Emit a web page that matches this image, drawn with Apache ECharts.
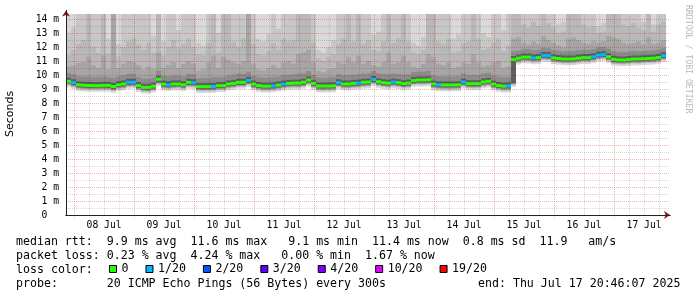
<!DOCTYPE html>
<html><head><meta charset="utf-8">
<script src="https://cdn.jsdelivr.net/npm/echarts@6/dist/echarts.min.js"></script>
<style>html,body{margin:0;padding:0;background:#fff;}#c{width:697px;height:297px;}</style>
</head><body><div id="c"></div>
<script>
// time: hours relative to 08 Jul 00:00; first bucket starts Jul 7 20:46, 2 h per bucket
const startHour = -3.2333;
const stepHours = 2;
const upperLimit = 14.357;

// median rtt (ms) per bucket
const median = [
 9.55, 9.45, 9.30, 9.27, 9.25, 9.24, 9.24, 9.26, 9.26, 9.18,
 9.30, 9.36, 9.48, 9.48, 9.24, 9.12, 9.12, 9.20, 9.70, 9.35,
 9.30, 9.36, 9.36, 9.30, 9.48, 9.45, 9.17, 9.17, 9.17, 9.18,
 9.24, 9.24, 9.36, 9.40, 9.48, 9.48, 9.62, 9.35, 9.25, 9.20,
 9.20, 9.22, 9.28, 9.35, 9.40, 9.42, 9.42, 9.48, 9.64, 9.40,
 9.21, 9.21, 9.21, 9.22, 9.45, 9.36, 9.36, 9.40, 9.42, 9.48,
 9.50, 9.68, 9.52, 9.45, 9.42, 9.50, 9.45, 9.38, 9.42, 9.60,
 9.64, 9.64, 9.66, 9.36, 9.30, 9.29, 9.29, 9.29, 9.30, 9.50,
 9.38, 9.38, 9.38, 9.50, 9.55, 9.35, 9.25, 9.20, 9.22, 11.10,
 11.20, 11.28, 11.28, 11.22, 11.24, 11.40, 11.38, 11.22, 11.18, 11.14,
 11.14, 11.15, 11.20, 11.24, 11.24, 11.30, 11.42, 11.45, 11.30, 11.12,
 11.08, 11.07, 11.10, 11.14, 11.14, 11.16, 11.18, 11.20, 11.25, 11.38
];
// lost pings out of 20 per bucket
const loss = [
 0,1,0,0,0,0,0,0,0,0,
 0,0,1,1,0,0,0,0,0,0,
 1,0,0,0,0,1,0,0,0,1,
 0,0,0,0,0,0,1,0,0,0,
 0,1,0,1,0,0,0,0,0,0,
 0,0,0,0,1,0,0,0,1,0,
 0,1,0,0,0,1,0,0,0,0,
 0,0,0,0,1,0,0,0,0,1,
 0,0,0,0,0,0,0,0,1,0,
 0,0,0,1,0,1,1,0,0,0,
 0,0,0,0,0,1,1,1,0,0,
 0,0,0,0,0,0,0,0,0,1
];
// lowest ping (ms)
const low = [
 9.12, 9.00, 8.85, 8.82, 8.80, 8.79, 8.80, 8.81, 8.80, 8.72,
 8.85, 8.90, 9.02, 9.03, 8.78, 8.68, 8.66, 8.75, 9.20, 8.90,
 8.85, 8.90, 8.92, 8.85, 9.02, 9.00, 8.72, 8.71, 8.72, 8.73,
 8.79, 8.80, 8.90, 8.95, 9.03, 9.02, 9.15, 8.90, 8.80, 8.75,
 8.75, 8.77, 8.83, 8.90, 8.95, 8.97, 8.96, 9.02, 9.18, 8.95,
 8.76, 8.75, 8.76, 8.77, 9.00, 8.91, 8.90, 8.95, 8.97, 9.02,
 9.05, 9.22, 9.07, 9.00, 8.97, 9.05, 9.00, 8.93, 8.97, 9.15,
 9.19, 9.18, 9.20, 8.91, 8.85, 8.84, 8.83, 8.84, 8.85, 9.05,
 8.93, 8.92, 8.93, 9.05, 9.10, 8.90, 8.80, 8.75, 8.76, 9.15,
 10.75, 10.83, 10.82, 10.77, 10.79, 10.95, 10.92, 10.77, 10.73, 10.69,
 10.69, 10.70, 10.75, 10.79, 10.78, 10.85, 10.97, 11.00, 10.85, 10.67,
 10.63, 10.62, 10.65, 10.69, 10.68, 10.71, 10.73, 10.75, 10.80, 10.93
];
// upper ping ranks (ms): 13th, 15th, 17th, 19th of 20 (values above the limit are cut off)
const q13 = [
 10.15, 10.05, 9.90, 9.88, 9.90, 9.85, 9.86, 9.90, 9.85, 9.80,
 9.90, 9.98, 10.08, 10.10, 9.85, 9.75, 9.75, 9.82, 10.30, 9.95,
 9.92, 9.98, 9.95, 9.90, 10.08, 10.05, 9.78, 9.80, 9.80, 9.85,
 9.85, 9.88, 9.98, 10.02, 10.10, 10.08, 10.25, 9.95, 9.85, 9.80,
 9.82, 9.85, 9.90, 9.98, 10.02, 10.05, 10.08, 10.12, 10.28, 10.02,
 9.82, 9.80, 9.82, 9.85, 10.05, 9.98, 10.00, 10.02, 10.05, 10.10,
 10.12, 10.28, 10.12, 10.08, 10.05, 10.12, 10.08, 10.02, 10.05, 10.22,
 10.25, 10.25, 10.30, 10.00, 9.92, 9.90, 9.90, 9.90, 9.92, 10.12,
 10.00, 10.02, 10.00, 10.12, 10.15, 9.98, 9.88, 9.85, 9.85, 11.70,
 11.75, 11.82, 11.85, 11.78, 11.80, 11.95, 11.92, 11.78, 11.75, 11.70,
 11.72, 11.72, 11.78, 11.80, 11.80, 11.85, 11.98, 12.00, 11.88, 11.70,
 11.65, 11.65, 11.68, 11.72, 11.70, 11.72, 11.75, 11.76, 11.82, 11.92
];
const q15 = [
 10.60, 10.70, 10.85, 10.90, 11.30, 10.70, 10.50, 11.40, 10.40, 20,
 10.50, 10.80, 11.00, 10.90, 10.70, 10.40, 10.60, 10.40, 11.60, 10.50,
 10.70, 10.90, 10.50, 10.80, 11.00, 10.80, 10.30, 10.40, 10.90, 11.40,
 10.50, 11.30, 11.10, 10.90, 10.80, 11.00, 20, 10.80, 10.40, 10.30,
 10.50, 10.70, 10.50, 10.90, 11.00, 10.80, 11.50, 11.60, 11.80, 10.90,
 10.30, 10.20, 10.40, 10.50, 10.90, 10.80, 11.30, 10.90, 11.40, 10.80,
 11.00, 10.70, 10.60, 10.90, 11.60, 10.80, 10.90, 11.40, 10.90, 10.60,
 10.50, 10.80, 11.50, 11.30, 10.80, 10.70, 10.90, 10.50, 10.60, 10.90,
 10.80, 11.50, 10.90, 10.60, 10.70, 10.90, 11.00, 10.50, 10.60, 12.60,
 12.70, 12.30, 12.20, 12.40, 12.20, 12.80, 12.50, 12.30, 12.10, 12.00,
 12.60, 12.70, 12.50, 12.30, 12.20, 12.40, 12.30, 12.40, 12.80, 12.70,
 12.60, 12.30, 12.20, 12.30, 12.40, 12.20, 12.70, 12.20, 12.30, 12.50
];
const q17 = [
 11.40, 11.80, 12.20, 12.50, 20, 12.00, 11.60, 20, 11.50, 20,
 11.30, 12.00, 12.40, 12.60, 12.20, 11.80, 12.30, 11.60, 20, 11.40,
 12.00, 12.50, 11.90, 12.20, 12.60, 12.00, 11.50, 11.40, 12.30, 20,
 11.60, 20, 20, 12.40, 12.00, 12.60, 20, 12.20, 11.50, 11.40,
 11.70, 12.30, 11.80, 12.60, 12.40, 12.50, 20, 20, 20, 12.30,
 11.20, 11.00, 11.30, 11.50, 12.20, 12.60, 20, 12.40, 20, 12.20,
 12.50, 11.80, 11.70, 12.40, 20, 12.30, 12.60, 20, 12.40, 11.60,
 11.50, 11.80, 20, 20, 12.40, 12.20, 12.60, 11.60, 11.70, 12.30,
 12.40, 20, 12.60, 11.80, 11.90, 12.30, 12.60, 11.70, 12.10, 20,
 20, 13.60, 13.40, 13.80, 13.50, 20, 13.70, 13.40, 13.00, 13.10,
 20, 20, 20, 13.60, 13.40, 13.50, 13.00, 13.10, 20, 20,
 20, 13.60, 13.50, 13.70, 13.40, 13.20, 20, 13.10, 13.60, 13.80
];
const q19 = [
 13.0, 13.4, 20, 20, 20, 20, 20, 20, 12.6, 20,
 12.2, 20, 20, 20, 20, 20, 20, 12.8, 20, 12.4,
 20, 20, 13.2, 20, 20, 20, 12.3, 12.1, 20, 20,
 13.0, 20, 20, 20, 20, 20, 20, 20, 12.6, 12.4,
 12.9, 20, 13.3, 20, 20, 20, 20, 20, 20, 20,
 11.8, 11.6, 12.0, 12.5, 20, 20, 20, 20, 20, 20,
 20, 12.9, 13.1, 20, 20, 20, 20, 20, 20, 12.3,
 12.1, 12.7, 20, 20, 20, 20, 20, 12.6, 12.9, 20,
 20, 20, 20, 13.0, 12.7, 20, 20, 13.2, 20, 20,
 20, 20, 20, 20, 20, 20, 20, 20, 13.6, 13.8,
 20, 20, 20, 20, 20, 20, 13.5, 13.7, 20, 20,
 20, 20, 20, 20, 20, 13.8, 20, 13.6, 20, 20
];

const dayLabels = ['08 Jul','09 Jul','10 Jul','11 Jul','12 Jul','13 Jul','14 Jul','15 Jul','16 Jul','17 Jul'];
const dayLabelHours = [12, 36, 60, 84, 108, 132, 156, 180, 204, 228];
const yTicks = [0,1,2,3,4,5,6,7,8,9,10,11,12,13,14];
const lossNames = ['0','1/20','2/20','3/20','4/20','10/20','19/20'];
const lossLevels = [0,1,2,3,4,10,19];
const lossColors = ['#26ff00','#00b8ff','#0059ff','#5e00ff','#7e00ff','#dd00ff','#ff0000'];
const statLines = [
 'median rtt:  9.9 ms avg  11.6 ms max   9.1 ms min  11.4 ms now  0.8 ms sd  11.9   am/s',
 'packet loss: 0.23 % avg  4.24 % max   0.00 % min  1.67 % now',
 'loss color:',
 'probe:       20 ICMP Echo Pings (56 Bytes) every 300s'
];
const endText = 'end: Thu Jul 17 20:46:07 2025';

const MONO = '"DejaVu Sans Mono", monospace';
const dataEnd = startHour + median.length * stepHours;
const xMin = startHour, xMax = startHour + 604 * 0.4;
const yMax = 204.5 / 14;

const smokeData = median.map((m, i) => [startHour + i * stepHours, startHour + (i + 1) * stepHours, low[i], m, q13[i], q15[i], q17[i], q19[i]]);

function renderSmoke(params, api) {
  const t0 = api.value(0), t1 = api.value(1);
  const x0 = api.coord([t0, 0])[0], x1 = api.coord([t1, 0])[0];
  const Y = v => api.coord([t0, Math.min(v, upperLimit)])[1];
  const yTop = Y(upperLimit), yLow = Y(api.value(2)), yMed = Y(api.value(3));
  const w = x1 - x0;
  const r = (a, b, fill) => ({type: 'rect', shape: {x: x0, y: a, width: w, height: Math.max(0, b - a)}, style: {fill: fill}});
  return {type: 'group', children: [
    r(yTop, yLow, '#d9d9d9'),
    r(Y(api.value(7)), yLow - 2, '#c7c7c7'),
    r(Y(api.value(6)), yLow - 2, '#b8b8b8'),
    r(Y(api.value(5)), yLow - 3, '#a5a5a5'),
    r(Y(api.value(4)), yLow - 3, '#8c8c8c'),
    r(yMed - 3.5, yLow - 4, '#5e5e5e')
  ]};
}
function renderMedian(params, api) {
  const x0 = api.coord([api.value(0), 0])[0], x1 = api.coord([api.value(1), 0])[0];
  const yMed = api.coord([api.value(0), api.value(2)])[1];
  return {type: 'rect', shape: {x: x0, y: yMed - 1.5, width: x1 - x0, height: 3}, style: {fill: api.visual('color')}};
}

// grid lines: [orientation 0=vertical 1=horizontal, value, major]
const gridData = [];
for (let h = Math.ceil(startHour / 6) * 6; h < dataEnd; h += 6) gridData.push([0, h, h % 24 === 0 ? 1 : 0]);
for (let v = 0.5; v <= 14; v += 0.5) gridData.push([1, v, Number.isInteger(v) ? 1 : 0]);
const majorColor = 'rgba(210,0,0,0.3)', minorColor = 'rgba(0,0,0,0.14)';
function renderGrid(params, api) {
  const o = api.value(0), v = api.value(1), major = api.value(2);
  const stroke = major ? majorColor : minorColor;
  if (o === 0) {
    const x = Math.round(api.coord([v, 0])[0]) + 0.5;
    const yb = api.coord([v, 0])[1] + (major ? 3 : 0);
    const yt = api.coord([v, upperLimit])[1];
    return {type: 'line', shape: {x1: x, y1: yb, x2: x, y2: yt}, style: {stroke: stroke, lineWidth: 1, lineDash: [1, 1]}};
  }
  const y = Math.round(api.coord([xMin, v])[1]) + 0.5;
  const xa = api.coord([xMin, v])[0], xb = api.coord([dataEnd + 1.2, v])[0];
  return {type: 'line', shape: {x1: xa, y1: y, x2: xb, y2: y}, style: {stroke: stroke, lineWidth: 1, lineDash: [1, 1]}};
}

const series = [
  {type: 'custom', name: 'smoke', renderItem: renderSmoke, data: smokeData, clip: false, z: 2, silent: true,
   encode: {x: [0, 1], y: [2, 3]}},
  {type: 'custom', name: 'grid', renderItem: renderGrid, data: gridData, clip: false, z: 3, silent: true,
   encode: {x: 1, y: 1}}
];
lossLevels.forEach((lv, j) => {
  const d = [];
  median.forEach((m, i) => { if (loss[i] === lv) d.push([startHour + i * stepHours, startHour + (i + 1) * stepHours, m]); });
  series.push({type: 'custom', name: lossNames[j], renderItem: renderMedian, data: d, clip: false, z: 4, silent: true,
    itemStyle: {color: lossColors[j]}, encode: {x: [0, 1], y: 2}});
});

const axisFont = {fontFamily: MONO, fontSize: 9.7, color: '#000'};
const chart = echarts.init(document.getElementById('c'), null, {renderer: 'canvas', width: 697, height: 297});
chart.setOption({
  animation: false,
  backgroundColor: '#ffffff',
  grid: {left: 66, right: 27, top: 10.5, bottom: 82, containLabel: false},
  xAxis: [
    {type: 'value', min: xMin, max: xMax, z: 10,
     axisLine: {show: true, onZero: false, lineStyle: {color: '#222', width: 1}},
     axisTick: {show: false}, splitLine: {show: false},
     axisLabel: {customValues: dayLabelHours, margin: 5, ...axisFont,
       formatter: v => dayLabels[dayLabelHours.indexOf(Math.round(v))] || ''}},
    {type: 'value', min: xMin, max: xMax, position: 'bottom', z: 9,
     axisLine: {show: true, onZero: false, symbol: ['none', 'arrow'], symbolSize: [6, 6], lineStyle: {color: '#8b1a1a'}},
     axisTick: {show: false}, axisLabel: {show: false}, splitLine: {show: false}}
  ],
  yAxis: [
    {type: 'value', min: 0, max: yMax, position: 'left', z: 10,
     axisLine: {show: true, onZero: false, lineStyle: {color: '#222', width: 1}},
     axisTick: {show: false}, splitLine: {show: false},
     axisLabel: {customValues: yTicks, margin: 7, ...axisFont,
       formatter: v => (Math.round(v) === 0 ? '0  ' : Math.round(v) + ' m')}},
    {type: 'value', min: 0, max: yMax, position: 'left', z: 9,
     axisLine: {show: true, onZero: false, symbol: ['none', 'arrow'], symbolSize: [6, 6], lineStyle: {color: '#8b1a1a'}},
     axisTick: {show: false}, axisLabel: {show: false}, splitLine: {show: false}}
  ],
  legend: {
    data: lossNames, left: 109, top: 262, padding: 0, itemGap: 17, itemWidth: 7, itemHeight: 7,
    icon: 'rect', selectedMode: false,
    itemStyle: {borderColor: '#000', borderWidth: 1},
    textStyle: {fontFamily: MONO, fontSize: 11.6, color: '#000', lineHeight: 14}
  },
  graphic: [
    {type: 'text', x: 10, y: 114, rotation: Math.PI / 2, silent: true,
     style: {text: 'Seconds', font: '11px "DejaVu Sans"', fill: '#000', align: 'center', verticalAlign: 'middle'}},
    {type: 'text', x: 688, y: 5, rotation: -Math.PI / 2, silent: true,
     style: {text: 'RRDTOOL / TOBI OETIKER', font: '8.2px ' + MONO, fill: '#b8b8b8', align: 'left', verticalAlign: 'middle'}},
    ...statLines.map((t, i) => ({type: 'text', x: 16, y: 241.5 + 14 * i, silent: true,
     style: {text: t, font: '11.6px ' + MONO, fill: '#000', align: 'left', verticalAlign: 'middle'}})),
    {type: 'text', x: 478, y: 283.5, silent: true,
     style: {text: endText, font: '11.6px ' + MONO, fill: '#000', align: 'left', verticalAlign: 'middle'}}
  ],
  series: series
});
</script></body></html>
